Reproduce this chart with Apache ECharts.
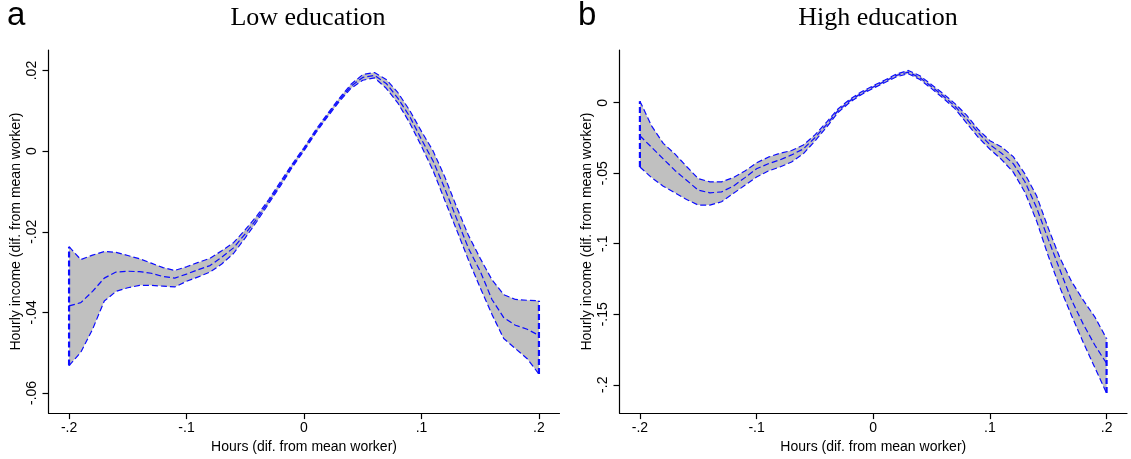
<!DOCTYPE html>
<html>
<head>
<meta charset="utf-8">
<title>hours-income</title>
<script src="https://cdn.jsdelivr.net/npm/echarts@6/dist/echarts.min.js"></script>
<style>
  html, body { margin: 0; padding: 0; background: #fff; }
</style>
</head>
<body>
<div id="main" style="width: 1131px; height: 459px;"></div>
<script>
// hours (difference from mean worker)
const hours = [-0.20, -0.19, -0.18, -0.17, -0.16, -0.15, -0.14, -0.13, -0.12, -0.11,
  -0.10, -0.09, -0.08, -0.07, -0.06, -0.05, -0.04, -0.03, -0.02, -0.01,
  0.00, 0.01, 0.02, 0.03, 0.04, 0.05, 0.06, 0.07, 0.08, 0.09,
  0.10, 0.11, 0.12, 0.13, 0.14, 0.15, 0.16, 0.17, 0.18, 0.19, 0.20];

// panel a: low education
const lowUpper = [-0.0237, -0.0269, -0.0258, -0.0249, -0.0251, -0.0259, -0.0267, -0.0278, -0.0289, -0.0296,
  -0.0287, -0.0276, -0.0266, -0.0247, -0.0227, -0.0195, -0.0160, -0.0120, -0.0076, -0.0032,
  0.0009, 0.0053, 0.0093, 0.0131, 0.0166, 0.0190, 0.0195, 0.0178, 0.0145, 0.0101,
  0.0049, 0.0000, -0.0065, -0.0139, -0.0209, -0.0266, -0.0319, -0.0356, -0.0368, -0.0370, -0.0371];
const lowMean = [-0.0384, -0.0376, -0.0348, -0.0315, -0.0300, -0.0298, -0.0299, -0.0303, -0.0311, -0.0315,
  -0.0305, -0.0294, -0.0284, -0.0263, -0.0240, -0.0205, -0.0167, -0.0125, -0.0081, -0.0036,
  0.0005, 0.0049, 0.0089, 0.0127, 0.0161, 0.0183, 0.0188, 0.0168, 0.0131, 0.0086,
  0.0029, -0.0025, -0.0094, -0.0168, -0.0241, -0.0298, -0.0368, -0.0413, -0.0432, -0.0442, -0.0457];
const lowLower = [-0.0532, -0.0499, -0.0442, -0.0372, -0.0348, -0.0339, -0.0333, -0.0333, -0.0335, -0.0337,
  -0.0323, -0.0312, -0.0300, -0.0280, -0.0254, -0.0215, -0.0174, -0.0130, -0.0086, -0.0040,
  0.0001, 0.0045, 0.0085, 0.0123, 0.0156, 0.0176, 0.0182, 0.0156, 0.0119, 0.0070,
  0.0012, -0.0049, -0.0123, -0.0196, -0.0270, -0.0339, -0.0405, -0.0465, -0.0490, -0.0515, -0.0553];

// panel b: high education
const highUpper = [0.0011, -0.0164, -0.0288, -0.0363, -0.0452, -0.0538, -0.0561, -0.0561, -0.0531, -0.0484,
  -0.0426, -0.0386, -0.0358, -0.0339, -0.0300, -0.0228, -0.0138, -0.0042, 0.0025, 0.0078,
  0.0121, 0.0161, 0.0204, 0.0229, 0.0191, 0.0128, 0.0064, -0.0006, -0.0088, -0.0190,
  -0.0269, -0.0314, -0.0382, -0.0505, -0.0660, -0.0889, -0.1100, -0.1268, -0.1400, -0.1520, -0.1673];
const highMean = [-0.0234, -0.0316, -0.0398, -0.0480, -0.0550, -0.0620, -0.0639, -0.0632, -0.0592, -0.0531,
  -0.0468, -0.0433, -0.0405, -0.0370, -0.0328, -0.0248, -0.0155, -0.0054, 0.0014, 0.0068,
  0.0112, 0.0152, 0.0194, 0.0217, 0.0178, 0.0114, 0.0048, -0.0024, -0.0115, -0.0213,
  -0.0298, -0.0358, -0.0432, -0.0560, -0.0745, -0.0968, -0.1185, -0.1400, -0.1570, -0.1720, -0.1848];
const highLower = [-0.0456, -0.0531, -0.0592, -0.0639, -0.0686, -0.0726, -0.0726, -0.0702, -0.0644, -0.0585,
  -0.0527, -0.0484, -0.0456, -0.0420, -0.0362, -0.0272, -0.0173, -0.0068, 0.0004, 0.0059,
  0.0103, 0.0143, 0.0184, 0.0206, 0.0165, 0.0100, 0.0032, -0.0042, -0.0145, -0.0245,
  -0.0330, -0.0403, -0.0492, -0.0635, -0.0838, -0.1086, -0.1310, -0.1510, -0.1700, -0.1880, -0.2059];

// tick values and labels
const xTickValues = [-0.2, -0.1, 0, 0.1, 0.2];
const xTickLabels = ['-.2', '-.1', '0', '.1', '.2'];
const lowTickValues = [-0.06, -0.04, -0.02, 0, 0.02];
const lowTickLabels = ['-.06', '-.04', '-.02', '0', '.02'];
const highTickValues = [-0.2, -0.15, -0.1, -0.05, 0];
const highTickLabels = ['-.2', '-.15', '-.1', '-.05', '0'];

const BLUE = '#0c0cff';
const BAND = '#c0c0c0';
const FONT = '"Liberation Sans", Arial, sans-serif';
const SERIF = '"Liberation Serif", "Times New Roman", serif';

function tickFmt(values, labels) {
  return function (v) {
    for (let i = 0; i < values.length; i++) {
      if (Math.abs(v - values[i]) < 1e-9) return labels[i];
    }
    return '';
  };
}

function pairs(ys) {
  return hours.map(function (x, i) { return [x, ys[i]]; });
}

// grey confidence band as one polygon
function bandSeries(idx, upper, lower) {
  return {
    type: 'custom',
    xAxisIndex: idx,
    yAxisIndex: idx,
    silent: true,
    z: 1,
    data: hours.map(function (x, i) { return [x, lower[i], upper[i]]; }),
    encode: { x: 0, y: [1, 2] },
    renderItem: function (params, api) {
      if (params.dataIndex !== 0) return null;
      const pts = [];
      for (let i = 0; i < hours.length; i++) pts.push(api.coord([hours[i], upper[i]]));
      for (let i = hours.length - 1; i >= 0; i--) pts.push(api.coord([hours[i], lower[i]]));
      return { type: 'polygon', shape: { points: pts }, style: { fill: BAND } };
    }
  };
}

function dashLine(idx, data, width) {
  return {
    type: 'line',
    xAxisIndex: idx,
    yAxisIndex: idx,
    data: data,
    symbol: 'none',
    silent: true,
    z: 3,
    lineStyle: { color: BLUE, width: width, type: [6, 3] }
  };
}

function panelSeries(idx, upper, mean, lower) {
  const n = hours.length - 1;
  return [
    bandSeries(idx, upper, lower),
    dashLine(idx, pairs(upper), 1.2),
    dashLine(idx, pairs(mean), 1.2),
    dashLine(idx, pairs(lower), 1.2),
    // vertical edges of the band
    dashLine(idx, [[hours[0], lower[0]], [hours[0], upper[0]]], 2.2),
    dashLine(idx, [[hours[n], lower[n]], [hours[n], upper[n]]], 2.2)
  ];
}

function xAxisFor(idx) {
  return {
    type: 'value',
    gridIndex: idx,
    min: -0.2175,
    max: 0.2175,
    name: 'Hours (dif. from mean worker)',
    nameLocation: 'middle',
    nameGap: 22,
    nameTextStyle: { fontFamily: FONT, fontSize: 14, color: '#000' },
    axisLine: { onZero: false, lineStyle: { color: '#000', width: 1.2 } },
    axisTick: { show: true, customValues: xTickValues, length: 6, lineStyle: { color: '#000', width: 1.2 } },
    axisLabel: { customValues: xTickValues, formatter: tickFmt(xTickValues, xTickLabels),
      fontFamily: FONT, fontSize: 14, color: '#000', margin: 8 },
    splitLine: { show: false }
  };
}

function yAxisFor(idx, min, max, values, labels) {
  return {
    type: 'value',
    gridIndex: idx,
    min: min,
    max: max,
    name: 'Hourly income (dif. from mean worker)',
    nameLocation: 'middle',
    nameGap: 25,
    nameTextStyle: { fontFamily: FONT, fontSize: 14, color: '#000' },
    axisLine: { show: true, onZero: false, lineStyle: { color: '#000', width: 1.2 } },
    axisTick: { show: true, customValues: values, length: 6, lineStyle: { color: '#000', width: 1.2 } },
    axisLabel: { customValues: values, formatter: tickFmt(values, labels), rotate: 90,
      fontFamily: FONT, fontSize: 14, color: '#000', margin: 9 },
    splitLine: { show: false }
  };
}

const chart = echarts.init(document.getElementById('main'), null, { renderer: 'canvas' });

const option = {
  animation: false,
  backgroundColor: '#fff',
  title: [
    { text: 'a', left: 7, top: -1, padding: 0,
      textStyle: { fontFamily: FONT, fontSize: 33, fontWeight: 'normal', color: '#000' } },
    { text: 'b', left: 578, top: -1, padding: 0,
      textStyle: { fontFamily: FONT, fontSize: 33, fontWeight: 'normal', color: '#000' } },
    { text: 'Low education', left: 308, top: 5, padding: 0, textAlign: 'center',
      textStyle: { fontFamily: SERIF, fontSize: 26, fontWeight: 'normal', color: '#000' } },
    { text: 'High education', left: 878, top: 5, padding: 0, textAlign: 'center',
      textStyle: { fontFamily: SERIF, fontSize: 26, fontWeight: 'normal', color: '#000' } }
  ],
  grid: [
    { left: 48.5, top: 50, width: 511, height: 367 },
    { left: 619.5, top: 50, width: 507.5, height: 367 }
  ],
  xAxis: [xAxisFor(0), xAxisFor(1)],
  yAxis: [
    yAxisFor(0, -0.065, 0.0251, lowTickValues, lowTickLabels),
    yAxisFor(1, -0.2201, 0.0374, highTickValues, highTickLabels)
  ],
  series: [].concat(
    panelSeries(0, lowUpper, lowMean, lowLower),
    panelSeries(1, highUpper, highMean, highLower)
  )
};

chart.setOption(option);
</script>
</body>
</html>
